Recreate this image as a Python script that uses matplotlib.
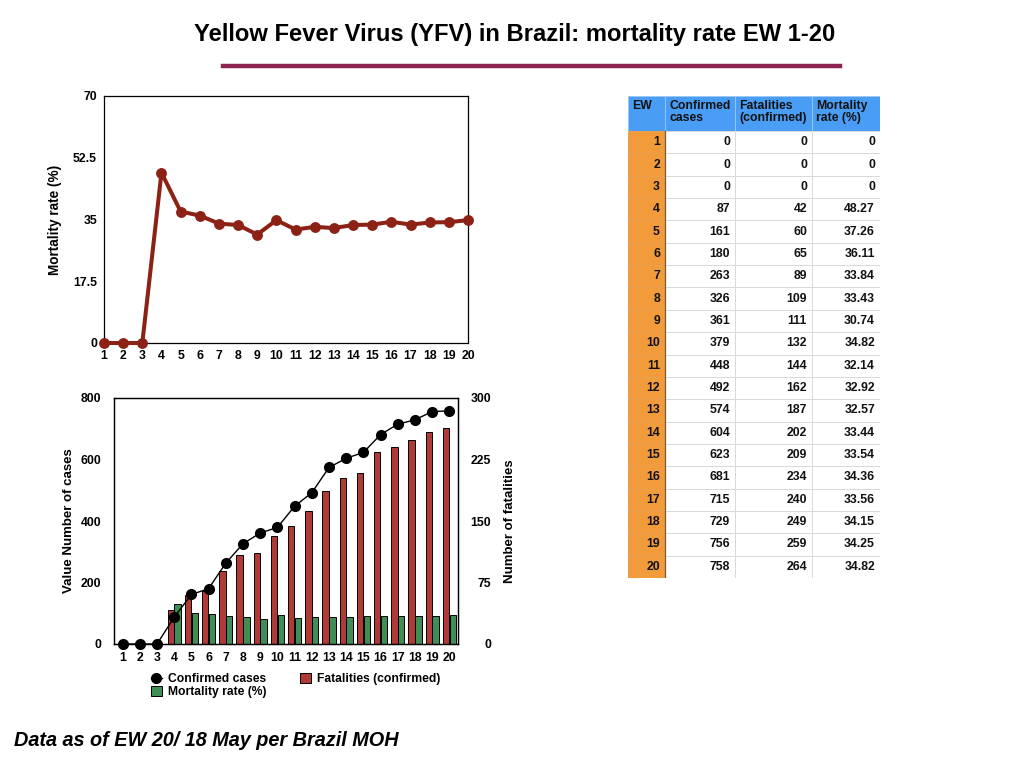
import matplotlib.pyplot as plt
from matplotlib.patches import Rectangle
from matplotlib.lines import Line2D
import numpy as np

plt.rcParams['font.family'] = ['Liberation Sans', 'DejaVu Sans']
plt.rcParams['font.weight'] = 'bold'

# data per epidemiological week
ew = list(range(1, 21))
confirmed = [0, 0, 0, 87, 161, 180, 263, 326, 361, 379, 448, 492, 574, 604, 623, 681, 715, 729, 756, 758]
fatalities = [0, 0, 0, 42, 60, 65, 89, 109, 111, 132, 144, 162, 187, 202, 209, 234, 240, 249, 259, 264]
mortality = [0, 0, 0, 48.27, 37.26, 36.11, 33.84, 33.43, 30.74, 34.82, 32.14, 32.92, 32.57, 33.44,
             33.54, 34.36, 33.56, 34.15, 34.25, 34.82]
table_header = ['EW', 'Confirmed\ncases', 'Fatalities\n(confirmed)', 'Mortality\nrate (%)']

W, H = 1024, 768
fig = plt.figure(figsize=(W / 100, H / 100), dpi=100)


def fax(x0, y0, x1, y1):
    # axes from pixel box (top-left origin)
    return fig.add_axes([x0 / W, 1 - y1 / H, (x1 - x0) / W, (y1 - y0) / H])


# title + rule
fig.text(515 / W, 1 - 34 / H, 'Yellow Fever Virus (YFV) in Brazil: mortality rate EW 1-20',
         ha='center', va='center', fontsize=17.1, fontweight='bold')
fig.add_artist(Line2D([223 / W, 840 / W], [1 - 66 / H] * 2, color='#8E2451', lw=3.2))
fig.text(14 / W, 1 - 741 / H, 'Data as of EW 20/ 18 May per Brazil MOH', ha='left', va='center',
         fontsize=14.3, fontweight='bold', style='italic')

# top chart: mortality rate
ax1 = fax(104, 96, 468, 343)
ax1.plot(ew, mortality, color='#8C2216', lw=2.9, marker='o', ms=6.8, clip_on=False, zorder=3)
ax1.set_xlim(1, 20)
ax1.set_ylim(0, 70)
ax1.set_xticks(ew)
ax1.set_yticks([0, 17.5, 35, 52.5, 70])
ax1.set_yticklabels(['0', '17.5', '35', '52.5', '70'])
ax1.tick_params(length=0, labelsize=8.8)
ax1.tick_params(axis='y', pad=5)
ax1.tick_params(axis='x', pad=5)
ax1.set_ylabel('Mortality rate (%)', fontsize=9.8, fontweight='bold', labelpad=8)
for s in ax1.spines.values():
    s.set_linewidth(0.9)

# bottom chart: cases, fatalities, mortality rate
ax2 = fax(114, 398, 458, 644)
ax3 = ax2.twinx()
x = np.array(ew)
bw = 0.37
ax3.bar(x - 0.2, fatalities, width=bw, color='#B23A36', edgecolor='black', lw=0.7,
        label='Fatalities (confirmed)', zorder=2)
ax3.bar(x + 0.2, mortality, width=bw, color='#3F8E55', edgecolor='black', lw=0.7,
        label='Mortality rate (%)', zorder=2)
ax3.set_ylim(0, 300)
ax3.set_yticks([0, 75, 150, 225, 300])
ax3.set_ylabel('Number of fatalities', fontsize=9.5, fontweight='bold', labelpad=9)
ax2.set_zorder(ax3.get_zorder() + 1)
ax2.patch.set_visible(False)
ax2.plot(x, confirmed, color='black', lw=1, marker='o', ms=7, label='Confirmed cases', clip_on=False)
ax2.set_xlim(0.5, 20.5)
ax2.set_ylim(0, 800)
ax2.set_yticks([0, 200, 400, 600, 800])
ax2.set_xticks(ew)
ax2.set_ylabel('Value Number of cases', fontsize=9.5, fontweight='bold', labelpad=4)
ax2.tick_params(length=0, labelsize=8.8)
ax2.tick_params(axis='y', pad=9)
ax2.tick_params(axis='x', pad=6)
ax3.tick_params(length=0, labelsize=8.8, pad=24)
for lab in ax3.get_yticklabels():
    lab.set_horizontalalignment('right')
for a in (ax2, ax3):
    for s in a.spines.values():
        s.set_linewidth(0.9)

h2, l2 = ax2.get_legend_handles_labels()
h3, l3 = ax3.get_legend_handles_labels()
handles = [h2[0], h3[1], h3[0]]
labels = [l2[0], l3[1], l3[0]]
fig.legend(handles, labels, ncol=2, loc='upper left', bbox_to_anchor=(145 / W, 1 - 667 / H),
           frameon=False, fontsize=8.7, handlelength=0.9, handleheight=0.9, handletextpad=0.5,
           columnspacing=2.8, labelspacing=0.05, borderpad=0)

# table
tx0, ty0, tx1, ty1 = 628, 96, 880, 578
axt = fax(tx0, ty0, tx1, ty1)
axt.set_xlim(0, tx1 - tx0)
axt.set_ylim(ty1 - ty0, 0)
axt.axis('off')
col_w = [37, 70, 77, 68]
col_x = np.concatenate([[0], np.cumsum(col_w)])
head_h = 35
row_h = (ty1 - ty0 - head_h) / len(ew)
for j, txt in enumerate(table_header):
    axt.add_patch(Rectangle((col_x[j], 0), col_w[j], head_h, facecolor='#4A9DF4',
                            edgecolor='#9cc8f5', lw=0.6))
    axt.text(col_x[j] + 4, 4, txt, ha='left', va='top', fontsize=8.8, fontweight='bold',
             color='#111111', linespacing=1.0)
for i in range(len(ew)):
    y = head_h + i * row_h
    vals = [str(ew[i]), str(confirmed[i]), str(fatalities[i]),
            ('%.2f' % mortality[i]) if mortality[i] else '0']
    for j, v in enumerate(vals):
        fc = '#F29B3A' if j == 0 else 'white'
        ec = '#E8A050' if j == 0 else '#d9d9d9'
        axt.add_patch(Rectangle((col_x[j], y), col_w[j], row_h, facecolor=fc, edgecolor=ec, lw=0.7))
        axt.text(col_x[j + 1] - 5, y + row_h / 2, v, ha='right', va='center', fontsize=8.8,
                 fontweight='bold', color='#111111')
axt.add_artist(Line2D([col_w[0], col_w[0]], [head_h, ty1 - ty0], color='#7a5a3a', lw=0.9))

fig.savefig('out.png', dpi=100)
